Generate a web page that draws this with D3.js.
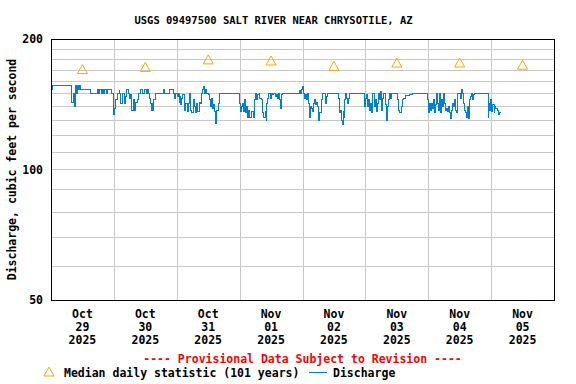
<!DOCTYPE html>
<html>
<head>
<meta charset="utf-8">
<script src="https://cdn.jsdelivr.net/npm/d3@7"></script>
<style>
  body { margin: 0; background: #fff; }
  text { font-family: "DejaVu Sans Mono", "Liberation Mono", monospace; font-weight: bold; }
</style>
</head>
<body>
<div id="chart"></div>
<script>
const title = "USGS 09497500 SALT RIVER NEAR CHRYSOTILE, AZ";
const yTitle = "Discharge, cubic feet per second";
const provisional = "---- Provisional Data Subject to Revision ----";
const medianLabel = "Median daily statistic (101 years)";
const dischargeLabel = "Discharge";

const firstDay = new Date(2025, 9, 29);
const dayLabels = [
  ["Oct", "29", "2025"], ["Oct", "30", "2025"], ["Oct", "31", "2025"], ["Nov", "01", "2025"],
  ["Nov", "02", "2025"], ["Nov", "03", "2025"], ["Nov", "04", "2025"], ["Nov", "05", "2025"]
];
const yTickLabels = [50, 100, 200];
const yGridValues = [60, 70, 80, 90, 100, 110, 120, 130, 140, 150, 160, 170, 180, 190];

// median daily statistic, one per day (plotted at noon)
const medianDaily = [170, 172, 179, 178, 173, 176, 176, 174];

// [hours since Oct 29 00:00, discharge cfs]
const discharge = [
  [0,153],[0.64,156],[7.9,150],[8.0,143],[8.4,150],[8.9,140],[9.3,156],[9.7,150],[10.0,156],[10.4,153],
  [10.8,156],[11.1,153],[15.1,150],[17.7,153],[18.1,150],[18.7,153],[19.1,150],[19.7,153],[20.1,150],[20.6,153],
  [21.0,150],[21.5,153],[23.2,150],[23.8,134],[24.2,138],[24.8,145],[25.4,150],[26.0,152],[26.3,150],[26.7,142],
  [27.35,150],[27.9,142],[28.4,147],[28.9,153],[29.4,150],[29.9,146],[30.4,149],[30.9,137],[31.4,145],[31.9,137],
  [32.4,143],[32.9,145],[33.5,150],[34.0,152],[34.3,153],[35.0,150],[35.5,153],[36.3,150],[36.8,153],[37.1,150],
  [37.5,146],[38.0,142],[38.4,137],[38.8,142],[39.0,137],[39.3,145],[39.7,150],[42.9,153],[43.3,150],[45.4,153],
  [46.7,150],[47.3,146],[47.7,150],[48.2,147],[48.6,150],[49.0,143],[49.2,147],[49.6,141],[50.0,146],[50.2,149],
  [50.8,143],[51.1,137],[51.5,142],[52.0,136],[52.5,142],[53.0,150],[53.4,137],[53.8,135],[54.3,145],[54.7,140],
  [55.1,135],[55.6,142],[56.1,136],[56.6,143],[57.1,142],[57.6,150],[57.9,153],[58.1,155],[58.5,150],[58.9,153],
  [59.4,150],[60.0,149],[60.4,145],[60.8,140],[61.2,146],[61.6,138],[61.9,141],[62.3,136],[62.7,128],[63.0,135],
  [63.3,137],[63.9,142],[64.2,145],[64.5,150],[71.9,146],[72.1,142],[72.5,136],[72.9,140],[73.1,142],[73.4,136],
  [73.8,145],[74.2,135],[74.7,140],[75.0,132],[75.4,137],[75.9,132],[76.6,136],[77.2,132],[77.7,145],[78.1,150],
  [78.5,145],[79.0,149],[79.4,150],[79.7,146],[80.3,145],[80.6,135],[81.2,132],[81.7,136],[82.1,130],[82.4,142],
  [82.8,146],[83.2,150],[83.6,146],[84.2,150],[84.6,149],[85.1,150],[85.6,147],[86.1,149],[86.5,146],[86.9,150],
  [87.4,145],[87.7,138],[88.0,149],[88.4,150],[95.0,152],[95.4,150],[95.8,153],[96.0,155],[96.3,150],[96.8,146],
  [97.2,149],[97.6,145],[98.0,150],[98.3,142],[98.7,132],[99.1,140],[99.5,138],[99.9,136],[100.2,142],[100.6,145],
  [101.0,141],[101.4,143],[101.8,140],[102.1,130],[102.5,135],[103.2,145],[103.7,150],[104.8,142],[105.1,147],[105.4,150],
  [109.9,146],[110.1,135],[110.5,137],[110.8,130],[111.2,127],[111.6,136],[111.9,132],[112.2,145],[112.5,150],[112.8,146],
  [113.2,142],[113.6,146],[113.9,150],[119.5,145],[119.8,140],[120.2,146],[120.6,149],[121.0,140],[121.3,145],[121.7,137],
  [122.1,142],[122.5,135],[122.9,150],[123.3,146],[123.6,140],[124.0,145],[124.4,136],[124.8,142],[125.2,150],[125.5,145],
  [125.9,151],[126.3,137],[126.7,146],[127.1,150],[127.6,141],[128.0,130],[128.4,140],[128.7,145],[129.1,150],[129.5,146],
  [129.9,150],[132.4,145],[132.8,137],[133.2,135],[133.6,140],[134.0,142],[134.3,145],[134.7,146],[135.2,148],[137.0,149],
  [137.8,150],[143.9,145],[144.1,135],[144.4,142],[144.8,137],[145.1,142],[145.5,138],[145.9,145],[146.3,135],[146.7,141],
  [147.0,150],[147.4,142],[147.8,137],[148.2,150],[148.6,135],[149.0,145],[149.3,140],[149.7,150],[150.1,142],[150.5,137],
  [150.9,138],[151.2,136],[151.6,140],[152.0,135],[152.4,131],[152.8,137],[153.2,142],[153.5,140],[153.9,145],[154.3,137],
  [154.7,135],[155.1,150],[156.5,146],[156.8,153],[157.1,150],[157.5,142],[157.9,137],[158.2,135],[158.6,132],[159.0,140],
  [159.4,131],[159.8,145],[160.2,147],[160.5,150],[160.9,145],[161.3,149],[161.7,150],[166.9,132],[167.1,142],[167.5,137],
  [167.9,145],[168.3,136],[168.7,141],[169.1,135],[169.4,140],[169.8,138],[170.3,137],[170.8,134],[171.3,135],[171.7,136]
];

const width = 576, height = 384;
const margin = { top: 39, right: 22, bottom: 84, left: 51 };
const plotW = width - margin.left - margin.right;
const plotH = height - margin.top - margin.bottom;
const fontMain = "11.5px";

const hourToDate = (h) => new Date(firstDay.getTime() + h * 3600e3);
const lastDay = d3.timeDay.offset(firstDay, dayLabels.length);

const x = d3.scaleTime().domain([firstDay, lastDay]).range([0, plotW]);
const y = d3.scaleLog().domain([50, 200]).range([plotH, 0]);

const svg = d3.select("#chart").append("svg")
  .attr("width", width)
  .attr("height", height);

svg.append("text")
  .attr("x", 273.5)
  .attr("y", 24)
  .attr("text-anchor", "middle")
  .style("font-size", "10.5px")
  .text(title);

const g = svg.append("g")
  .attr("transform", `translate(${margin.left},${margin.top})`);

// grid
g.append("g").selectAll("line")
  .data(yGridValues)
  .join("line")
  .attr("x1", 0).attr("x2", plotW)
  .attr("y1", (d) => Math.round(y(d)) + 0.5)
  .attr("y2", (d) => Math.round(y(d)) + 0.5)
  .attr("stroke", "#c8c8c8");

const dayBreaks = d3.timeDay.range(d3.timeDay.offset(firstDay, 1), lastDay);
g.append("g").selectAll("line")
  .data(dayBreaks)
  .join("line")
  .attr("x1", (d) => Math.round(x(d)) + 0.5)
  .attr("x2", (d) => Math.round(x(d)) + 0.5)
  .attr("y1", 0).attr("y2", plotH)
  .attr("stroke", "#c8c8c8");

// discharge
const line = d3.line()
  .x((d) => x(hourToDate(d[0])))
  .y((d) => y(d[1]))
  .curve(d3.curveStepAfter);

g.append("path")
  .datum(discharge)
  .attr("fill", "none")
  .attr("stroke", "#0080d0")
  .attr("stroke-width", 1)
  .attr("shape-rendering", "crispEdges")
  .attr("d", line);

// median triangles
const tri = "M0,-5L5,4L-5,4Z";
g.append("g").selectAll("path")
  .data(medianDaily)
  .join("path")
  .attr("transform", (d, i) =>
    `translate(${x(d3.timeHour.offset(d3.timeDay.offset(firstDay, i), 12))},${y(d)})`)
  .attr("d", tri)
  .attr("fill", "none")
  .attr("stroke", "#ffa500");

// frame
g.append("rect")
  .attr("x", 0.5).attr("y", 0.5)
  .attr("width", plotW).attr("height", plotH)
  .attr("fill", "none")
  .attr("stroke", "#000");

// y axis labels
const yAxis = d3.axisLeft(y)
  .tickValues(yTickLabels)
  .tickFormat(d3.format("d"))
  .tickSize(0)
  .tickPadding(8);
const yAxisG = g.append("g").call(yAxis);
yAxisG.select(".domain").remove();
yAxisG.selectAll("text")
  .style("font-size", fontMain)
  .attr("fill", "#000");

// x axis labels (three lines, at noon)
const noons = dayLabels.map((d, i) => d3.timeHour.offset(d3.timeDay.offset(firstDay, i), 12));
const xLabels = g.append("g")
  .attr("transform", `translate(0,${plotH})`)
  .selectAll("text")
  .data(noons)
  .join("text")
  .attr("x", (d) => x(d))
  .attr("y", 18)
  .attr("text-anchor", "middle")
  .style("font-size", fontMain);
xLabels.each(function (d, i) {
  const t = d3.select(this);
  dayLabels[i].forEach((s, k) => {
    t.append("tspan").attr("x", x(d)).attr("dy", k === 0 ? 0 : 13).text(s);
  });
});

// y title
svg.append("text")
  .attr("transform", `translate(16,${margin.top + plotH / 2}) rotate(-90)`)
  .attr("text-anchor", "middle")
  .style("font-size", fontMain)
  .text(yTitle);

// provisional note
svg.append("text")
  .attr("x", margin.left + plotW / 2)
  .attr("y", 363)
  .attr("text-anchor", "middle")
  .attr("fill", "#ff0000")
  .style("font-size", fontMain)
  .text(provisional);

// legend
const legend = svg.append("g").attr("transform", "translate(0,372)");
legend.append("path")
  .attr("transform", "translate(49,0)")
  .attr("d", tri)
  .attr("fill", "none")
  .attr("stroke", "#ffa500");
legend.append("text")
  .attr("x", 64).attr("y", 4.5)
  .style("font-size", fontMain)
  .text(medianLabel);
legend.append("line")
  .attr("x1", 309).attr("x2", 327)
  .attr("y1", 0.5).attr("y2", 0.5)
  .attr("stroke", "#0080d0");
legend.append("text")
  .attr("x", 333).attr("y", 4.5)
  .style("font-size", fontMain)
  .text(dischargeLabel);
</script>
</body>
</html>
